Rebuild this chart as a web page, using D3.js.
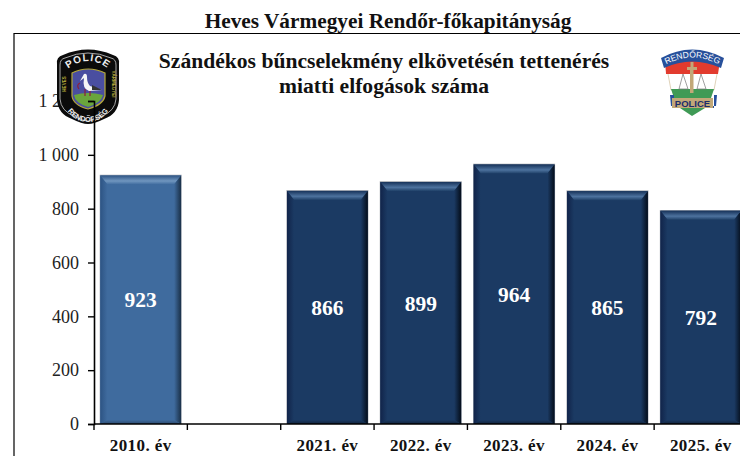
<!DOCTYPE html>
<html><head><meta charset="utf-8">
<script src="https://cdn.jsdelivr.net/npm/d3@7"></script>
<style>html,body{margin:0;padding:0;background:#fff}svg{display:block;font-family:"Liberation Serif","Times New Roman",serif}</style>
</head><body><div id="c"></div>
<script>
const categories = ["2010. év", "", "2021. év", "2022. év", "2023. év", "2024. év", "2025. év"];
const values = [923, null, 866, 899, 964, 865, 792];
const yTicks = [0, 200, 400, 600, 800, 1000, 1200];
const yTickLabels = ["0", "200", "400", "600", "800", "1 000", "1 200"];
const pageTitle = "Heves Vármegyei Rendőr-főkapitányság";
const chartTitle = ["Szándékos bűncselekmény elkövetésén tettenérés", "miatti elfogások száma"];

const W = 740, H = 456;
const svg = d3.select("#c").append("svg").attr("width", W).attr("height", H);
const defs = svg.append("defs");
const m = {l: 94, r: 747.5, t: 101, b: 424};
const x = d3.scaleBand().domain(d3.range(categories.length)).range([m.l, m.r]).paddingInner(0.135).paddingOuter(0.0675);
const y = d3.scaleLinear().domain([0, 1200]).range([m.b, m.t]);
const xTick = d3.scaleLinear().domain([0, categories.length]).range([m.l, m.r]);

// frame
svg.append("path").attr("d", `M14,${H}V33.5H${W}`).attr("fill", "none").attr("stroke", "#000").attr("stroke-width", 1.2);

svg.append("text").attr("x", 388).attr("y", 28).attr("text-anchor", "middle")
  .attr("font-weight", "bold").attr("font-size", 21.3).attr("fill", "#111").text(pageTitle);
chartTitle.forEach((t, i) => svg.append("text").attr("x", 384).attr("y", 68 + i * 25)
  .attr("text-anchor", "middle").attr("font-weight", "bold").attr("font-size", 21.6).attr("fill", "#111").text(t));

// gradients
function grad(id, x2, y2, stops) {
  const g = defs.append("linearGradient").attr("id", id).attr("x1", 0).attr("y1", 0).attr("x2", x2).attr("y2", y2);
  stops.forEach(s => g.append("stop").attr("offset", s[0]).attr("stop-color", s[1]));
}
const pal = {
  old: {face: "#3f6b9e", top: ["#2f5585", "#7096bf", "#3f6b9e"], left: ["#2d5484", "#3f6b9e"], right: ["#3f6b9e", "#1a3048"], bot: ["#3f6b9e", "#2c4a6e"]},
  cur: {face: "#1b3a63", top: ["#17335a", "#4d729e", "#1f4068"], left: ["#11244a", "#1b3a63"], right: ["#1b3a63", "#040d1a"], bot: ["#1b3a63", "#10233b"]}
};
Object.entries(pal).forEach(([k, p]) => {
  grad(k + "T", 0, 1, [[0, p.top[0]], [0.6, p.top[1]], [1, p.top[2]]]);
  grad(k + "L", 1, 0, [[0, p.left[0]], [1, p.left[1]]]);
  grad(k + "R", 1, 0, [[0, p.right[0]], [1, p.right[1]]]);
  grad(k + "B", 0, 1, [[0, p.bot[0]], [1, p.bot[1]]]);
});

// bars
const data = values.map((v, i) => ({v, i})).filter(d => d.v != null);
const bw = x.bandwidth(), bevX = 7, bevY = 9;
const bars = svg.append("g").selectAll("g").data(data).join("g");
bars.each(function(d) {
  const g = d3.select(this), k = d.i === 0 ? "old" : "cur";
  const x0 = x(d.i), x1 = x0 + bw, y0 = y(d.v), y1 = y(0);
  const poly = (pts, fill) => g.append("polygon").attr("points", pts.map(p => p.join(",")).join(" ")).attr("fill", fill);
  g.append("rect").attr("x", x0 - 0.6).attr("y", y0 - 0.8).attr("width", bw + 1.2).attr("height", y1 - y0 + 0.8).attr("fill", "#a2a6ad");
  g.append("rect").attr("x", x0).attr("y", y0).attr("width", bw).attr("height", y1 - y0).attr("fill", pal[k].face);
  poly([[x0, y0], [x1, y0], [x1 - bevX, y0 + bevY], [x0 + bevX, y0 + bevY]], `url(#${k}T)`);
  poly([[x0, y0], [x0 + bevX, y0 + bevY], [x0 + bevX, y1 - 4], [x0, y1]], `url(#${k}L)`);
  poly([[x1, y0], [x1 - bevX, y0 + bevY], [x1 - bevX, y1 - 4], [x1, y1]], `url(#${k}R)`);
  poly([[x0, y1], [x0 + bevX, y1 - 4], [x1 - bevX, y1 - 4], [x1, y1]], `url(#${k}B)`);
  g.append("text").attr("x", x0 + bw / 2).attr("y", y(d.v / 2)).attr("dy", "0.35em").attr("text-anchor", "middle")
    .attr("fill", "#fff").attr("font-weight", "bold").attr("font-size", 21.5).text(d.v);
});

// y labels sit under the left badge, axis lines above it
const yLabels = svg.append("g").attr("transform", `translate(${m.l},0)`)
  .call(d3.axisLeft(y).tickValues(yTicks).tickFormat((d, i) => yTickLabels[i]).tickSize(6).tickPadding(9));
yLabels.select(".domain").remove();
yLabels.selectAll(".tick line").remove();
yLabels.attr("font-family", '"Liberation Serif"').attr("font-size", 18);
yLabels.selectAll("text").attr("fill", "#222");

// left badge
const b1 = svg.append("g").attr("transform", "translate(88,86)");
defs.append("path").attr("id", "arcTop").attr("d", "M-24,-14Q0,-36 24,-14");
defs.append("path").attr("id", "arcBot").attr("d", "M-28,8Q-20,36 0,36Q20,36 28,8");
b1.append("path").attr("d", "M-25,-31Q0,-42 25,-31Q32,-29 31,-22V14Q30,28 16,33Q6,38 0,38Q-6,38 -16,33Q-30,28 -31,14V-22Q-32,-29 -25,-31Z").attr("fill", "#0b0b0b");
b1.append("path").attr("d", "M-23,-28Q0,-38 23,-28Q28,-27 28,-21V13Q27,25 14,30Q5,35 0,35Q-5,35 -14,30Q-27,25 -28,13V-21Q-28,-27 -23,-28Z").attr("fill", "none").attr("stroke", "#cfcfcf").attr("stroke-width", 0.8);
b1.append("path").attr("d", "M-16,-13Q0,-21 17,-13V10Q15,19 0,23Q-15,19 -16,10Z").attr("fill", "#4a4ea0").attr("stroke", "#b5a83a").attr("stroke-width", 1.2);
b1.append("path").attr("d", "M-14,9Q0,5 15,9Q13,17 0,21Q-13,17 -14,9Z").attr("fill", "#6aa53c");
b1.append("path").attr("d", "M-9,3Q-12,-1 -8,-3M-3,3V10M2,4V10").attr("fill", "none").attr("stroke", "#8e1f3a").attr("stroke-width", 1.2);
b1.append("path").attr("d", "M-4,-12Q-1,-13 -1,-9Q-1,-3 2,0L14,4L1,5Q-6,3 -4,-8L-8,-5Z").attr("fill", "#f6f6f6");
b1.append("path").attr("d", "M4,4L14,4L4,-1Z").attr("fill", "#333");
b1.append("text").attr("font-size", 10).attr("font-weight", "bold").attr("fill", "#eee").attr("letter-spacing", 1).attr("font-family", '"Liberation Sans"')
  .append("textPath").attr("href", "#arcTop").attr("startOffset", "50%").attr("text-anchor", "middle").text("POLICE");
b1.append("text").attr("font-size", 7.5).attr("font-weight", "bold").attr("fill", "#eee").attr("font-family", '"Liberation Sans"')
  .append("textPath").attr("href", "#arcBot").attr("startOffset", "50%").attr("text-anchor", "middle").text("RENDŐRSÉG");
[[-22, "HEVES"], [24, "VÁRMEGYEI"]].forEach(([tx, t]) => b1.append("text").attr("transform", `translate(${tx},-2) rotate(${tx < 0 ? -90 : 90})`)
  .attr("text-anchor", "middle").attr("font-size", 4.5).attr("font-weight", "bold").attr("fill", "#b5a83a").attr("font-family", '"Liberation Sans"').text(t));

// right badge
const b2 = svg.append("g").attr("transform", "translate(692,82)");
b2.append("path").attr("d", "M-27,-22H28L25,-8L22,8H-21L-24,-8Z").attr("fill", "#fff").attr("stroke", "#c9b48a").attr("stroke-width", 0.6);
b2.append("path").attr("d", "M-27,-22H28L26,-8H-26Z").attr("fill", "#e23b2e");
b2.append("path").attr("d", "M-31,-24Q0,-41 32,-24L29,-14Q0,-27 -28,-14Z").attr("fill", "#27509b");
b2.append("path").attr("d", "M-21,7H22L19,16H-18Z").attr("fill", "#3f9a55");
b2.append("path").attr("d", "M-22,13H-18V26H22V13H25L24,24H-21Z").attr("fill", "#27509b");
b2.append("rect").attr("x", -20).attr("y", 16).attr("width", 41).attr("height", 10).attr("fill", "#c2a878");
b2.append("path").attr("d", "M-12,26H13L0,34Z").attr("fill", "#3f9a55");
b2.append("path").attr("d", "M-9,-8L-13,7H-4ZM9,-8L5,7H14Z").attr("fill", "none").attr("stroke", "#777").attr("stroke-width", 0.7);
b2.append("path").attr("d", "M-1.5,-20H1.5V-15H5V-12H1.5V11H-2V-12H-5V-15H-1.5Z").attr("fill", "#c2a878");
defs.append("path").attr("id", "arcR2").attr("d", "M-27,-17Q0,-32 28,-17");
b2.append("text").attr("font-size", 8.5).attr("fill", "#fff").attr("font-family", '"Liberation Sans"')
  .append("textPath").attr("href", "#arcR2").attr("startOffset", "50%").attr("text-anchor", "middle").text("RENDŐRSÉG");
b2.append("text").attr("x", 0.5).attr("text-anchor", "middle").attr("y", 24.5).attr("font-size", 9.5).attr("font-weight", "bold").attr("fill", "#1c2d6b").attr("font-family", '"Liberation Sans"').text("POLICE");

// axes
const ya = svg.append("g").attr("transform", `translate(${m.l},0)`)
  .call(d3.axisLeft(y).tickValues(yTicks).tickFormat("").tickSize(6));
ya.select(".domain").attr("stroke", "#000").attr("stroke-width", 1.6);
ya.selectAll(".tick line").attr("stroke", "#000").attr("stroke-width", 1.4);

const xg = svg.append("g");
xg.append("line").attr("x1", m.l).attr("x2", W).attr("y1", m.b).attr("y2", m.b).attr("stroke", "#000").attr("stroke-width", 1.6);
xg.selectAll("line.t").data(d3.range(categories.length + 1)).join("line").attr("class", "t")
  .attr("x1", d => xTick(d)).attr("x2", d => xTick(d)).attr("y1", m.b).attr("y2", m.b + 6).attr("stroke", "#000").attr("stroke-width", 1.4);
xg.selectAll("text").data(categories).join("text")
  .attr("x", (d, i) => x(i) + bw / 2).attr("y", 451).attr("text-anchor", "middle")
  .attr("font-weight", "bold").attr("font-size", 17).attr("letter-spacing", 0.4).attr("fill", "#111").text(d => d);
</script></body></html>
